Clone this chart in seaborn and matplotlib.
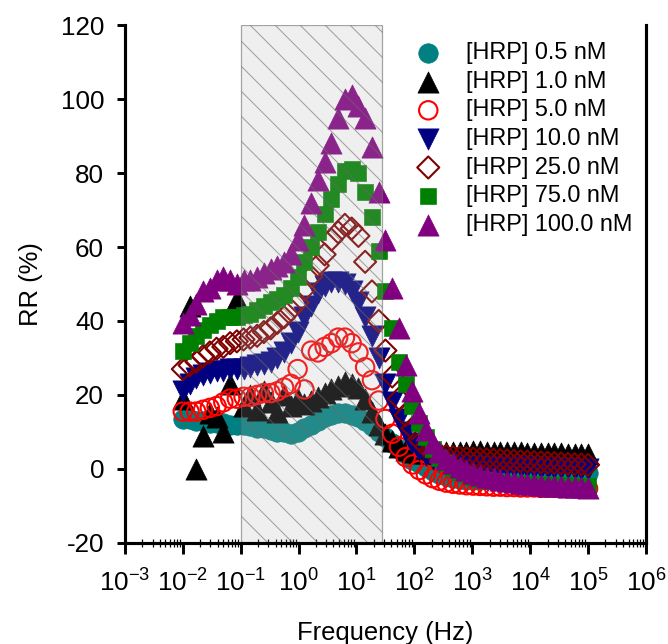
"""Relative response (RR) vs frequency for HRP concentrations."""

import matplotlib

matplotlib.use("Agg")
import matplotlib.pyplot as plt
import numpy as np
import pandas as pd
import seaborn as sns
from matplotlib.ticker import LogLocator, LogFormatterSciNotation, NullFormatter, MultipleLocator


FREQ_HZ = [
    0.0100, 0.0131, 0.0171, 0.0224, 0.0293, 0.0383, 0.0501, 0.0656, 0.0858,
    0.112, 0.147, 0.192, 0.251, 0.329, 0.430, 0.562, 0.736, 0.962,
    1.26, 1.65, 2.15, 2.82, 3.69, 4.82, 6.31, 8.25,
    10.8, 14.1, 18.5, 24.2, 31.6, 41.4, 54.1, 70.8, 92.6,
    121, 158, 207, 271, 355, 464, 607, 794,
    1040, 1360, 1780, 2330, 3040, 3980, 5210, 6810, 8910,
    11700, 15300, 20000, 26100, 34100, 44700, 58400, 76400, 100000,
]

RR_0_5 = [
    13.5, 13.5, 13.0, 13.0, 12.5, 12.5, 12.5, 12.0, 12.0, 12.0,
    11.5, 11.0, 11.0, 10.5, 10.0, 10.0, 9.5, 10.0, 11.0, 12.0,
    13.0, 14.0, 14.5, 15.0, 15.0, 14.5, 14.0, 13.0, 11.5, 10.0,
    8.5, 7.0, 5.5, 4.0, 2.5, 1.5, 0.5, -0.5, -1.3, -2.0,
    -2.5, -2.8, -3.0, -3.0, -2.9, -2.8, -2.6, -2.5, -2.3, -2.2,
    -2.0, -1.9, -1.8, -1.7, -1.6, -1.5, -1.4, -1.3, -1.2, -1.1, -1.0,
]
RR_1_0 = [
    19.0, 44.0, 0.0, 9.0, 15.0, 14.0, 10.0, 23.0, 46.0, 17.0,
    20.0, 16.0, 21.0, 18.0, 15.5, 20.0, 17.0, 19.0, 17.5, 18.5,
    19.5, 20.5, 21.5, 22.5, 23.5, 23.0, 22.0, 19.0, 15.5, 12.0,
    9.5, 7.5, 6.0, 5.0, 4.5, 4.2, 4.2, 4.3, 4.4, 4.5,
    4.6, 4.7, 4.7, 4.8, 4.8, 4.7, 4.7, 4.6, 4.6, 4.5,
    4.5, 4.4, 4.4, 4.3, 4.3, 4.2, 4.2, 4.1, 4.1, 4.0, 4.0,
]
RR_5_0 = [
    15.5, 15.5, 15.5, 16.0, 16.5, 17.0, 18.0, 19.0, 19.0, 19.5,
    19.5, 20.0, 20.5, 20.5, 21.0, 22.0, 23.0, 27.0, 21.5, 32.0,
    31.5, 33.0, 34.0, 35.5, 35.5, 34.0, 31.5, 27.5, 24.0, 18.5,
    13.5, 9.5, 6.0, 3.2, 1.2, -0.3, -1.5, -2.5, -3.2, -3.7,
    -4.0, -4.2, -4.4, -4.5, -4.6, -4.7, -4.8, -4.8, -4.9, -4.9,
    -5.0, -5.0, -5.0, -5.1, -5.1, -5.1, -5.2, -5.2, -5.2, -5.2, -5.3,
]
RR_10_0 = [
    21.0, 23.0, 24.5, 25.5, 26.0, 26.5, 26.5, 27.0, 27.0, 27.0,
    27.5, 28.0, 28.5, 29.0, 30.0, 31.5, 34.0, 37.0, 41.0, 44.0,
    47.5, 49.5, 50.5, 50.5, 50.0, 48.0, 45.0, 41.0, 36.0, 30.0,
    23.0, 18.0, 13.5, 10.0, 7.0, 5.0, 3.7, 2.8, 2.2, 1.8,
    1.5, 1.3, 1.1, 1.0, 0.9, 0.8, 0.7, 0.6, 0.5, 0.5,
    0.4, 0.4, 0.3, 0.3, 0.3, 0.2, 0.2, 0.2, 0.1, 0.1, 0.0,
]
RR_25_0 = [
    27.0, 28.0, 29.0, 30.5, 31.5, 32.5, 33.0, 34.0, 34.5, 35.0,
    35.5, 36.0, 37.0, 38.0, 39.5, 41.0, 43.0, 45.0, 48.5, 52.0,
    55.0, 58.0, 62.0, 64.0, 66.0, 65.0, 63.0, 56.0, 48.0, 40.0,
    32.0, 25.0, 19.0, 14.5, 11.0, 8.0, 6.0, 4.8, 4.0, 3.5,
    3.2, 3.0, 2.9, 2.8, 2.7, 2.6, 2.5, 2.4, 2.3, 2.2,
    2.1, 2.0, 1.9, 1.8, 1.7, 1.6, 1.5, 1.4, 1.3, 1.2, 1.1,
]
RR_75_0 = [
    32.0, 34.0, 36.0, 37.5, 39.0, 40.0, 41.0, 41.0, 41.0, 41.5,
    42.0, 43.0, 44.0, 45.0, 46.0, 47.0, 49.0, 52.0, 56.0, 60.0,
    64.0, 69.0, 73.0, 77.0, 80.5, 81.0, 80.0, 75.0, 68.0, 59.0,
    48.0, 38.0, 29.0, 23.0, 17.0, 12.5, 8.5, 5.5, 3.0, 1.5,
    0.3, -0.7, -1.5, -2.1, -2.6, -3.0, -3.3, -3.5, -3.7, -3.8,
    -3.9, -4.0, -4.1, -4.2, -4.3, -4.3, -4.4, -4.4, -4.5, -4.5, -4.6,
]
RR_100_0 = [
    39.5, 41.5, 44.5, 48.0, 49.0, 51.0, 52.0, 51.0, 50.0, 51.0,
    51.0, 52.0, 53.0, 54.0, 55.0, 56.0, 58.0, 62.0, 66.0, 72.0,
    78.0, 83.0, 88.0, 95.0, 100.0, 101.0, 98.0, 95.0, 87.0, 75.0,
    62.0, 49.0, 38.0, 28.0, 21.0, 15.0, 10.5, 7.0, 4.5, 2.8,
    1.5, 0.5, -0.3, -1.0, -1.6, -2.1, -2.5, -2.9, -3.2, -3.5,
    -3.8, -4.0, -4.2, -4.4, -4.5, -4.6, -4.7, -4.8, -4.9, -5.0, -5.1,
]

SERIES_LABELS = [
    "[HRP] 0.5 nM",
    "[HRP] 1.0 nM",
    "[HRP] 5.0 nM",
    "[HRP] 10.0 nM",
    "[HRP] 25.0 nM",
    "[HRP] 75.0 nM",
    "[HRP] 100.0 nM",
]
SERIES_VALUES = [RR_0_5, RR_1_0, RR_5_0, RR_10_0, RR_25_0, RR_75_0, RR_100_0]

# marker, colour, filled, size (points^2)
STYLES = [
    ("o", "#008080", True, 88),
    ("^", "#000000", True, 104),
    ("o", "#ff0000", False, 78),
    ("v", "#000080", True, 104),
    ("D", "#800000", False, 56),
    ("s", "#008000", True, 66),
    ("^", "#800080", True, 104),
]

SHADE_RANGE = (0.1, 28.0)


def build_table() -> pd.DataFrame:
    frames = []
    for label, values in zip(SERIES_LABELS, SERIES_VALUES):
        frames.append(pd.DataFrame({"freq": FREQ_HZ, "rr": values, "series": label}))
    return pd.concat(frames, ignore_index=True)


def main() -> None:
    sns.set_style("ticks")
    plt.rcParams["font.family"] = ["Liberation Sans", "DejaVu Sans"]
    plt.rcParams["axes.unicode_minus"] = False
    plt.rcParams["hatch.linewidth"] = 0.5
    for key in ["text.color", "axes.labelcolor", "xtick.color", "ytick.color"]:
        plt.rcParams[key] = "black"

    df = build_table()
    dpi = 150
    fig = plt.figure(figsize=(668 / dpi, 644 / dpi), dpi=dpi)
    ax = fig.add_axes([0.187, 0.157, 0.78, 0.804])

    for label, (marker, color, filled, size) in zip(SERIES_LABELS, STYLES):
        sub = df.loc[df["series"].eq(label)]
        kws = dict(marker=marker, s=size, color=color, edgecolor=color, label=label)
        if filled:
            kws["linewidth"] = 0.3
        else:
            kws["facecolor"] = "none"
            kws["linewidth"] = 1.0
        sns.scatterplot(data=sub, x="freq", y="rr", ax=ax, **kws)

    ax.axvspan(
        *SHADE_RANGE,
        facecolor=(0.7, 0.7, 0.7, 0.2),
        edgecolor=(0.42, 0.42, 0.42, 0.6),
        hatch="\\\\",
        linewidth=0.6,
        zorder=3,
    )

    ax.set_xscale("log")
    ax.set_xlim(1e-3, 1e6)
    ax.set_ylim(-20, 120)
    ax.xaxis.set_major_locator(LogLocator(base=10, numticks=20))
    ax.xaxis.set_major_formatter(LogFormatterSciNotation())
    ax.xaxis.set_minor_locator(LogLocator(base=10, subs=np.arange(2, 10), numticks=100))
    ax.xaxis.set_minor_formatter(NullFormatter())
    ax.yaxis.set_major_locator(MultipleLocator(20))

    for side in ["left", "bottom", "right"]:
        ax.spines[side].set_linewidth(1.5)
        ax.spines[side].set_color("black")
        ax.spines[side].set_zorder(5)
    ax.spines["top"].set_visible(False)

    ax.tick_params(axis="x", which="major", direction="out", length=5.5, width=1.4,
                   pad=7, labelsize=12.5, color="black")
    ax.tick_params(axis="x", which="minor", direction="inout", length=4, width=0.6, color="black")
    ax.tick_params(axis="y", which="major", direction="out", length=4, width=1.4,
                   pad=6, labelsize=12.5, color="black")

    ax.set_xlabel("Frequency (Hz)", fontsize=12.3)
    ax.set_ylabel("RR (%)", fontsize=12.3)
    ax.xaxis.set_label_coords(0.5, -0.151)
    ax.yaxis.set_label_coords(-0.157, 0.5)

    ax.legend(
        loc="upper left",
        bbox_to_anchor=(0.537, 0.985),
        frameon=False,
        fontsize=11.3,
        handlelength=1.2,
        handletextpad=1.0,
        labelspacing=0.28,
        borderpad=0.4,
        borderaxespad=0,
        scatterpoints=1,
    )

    fig.savefig("out.png", dpi=dpi)
    plt.close(fig)


if __name__ == "__main__":
    main()
